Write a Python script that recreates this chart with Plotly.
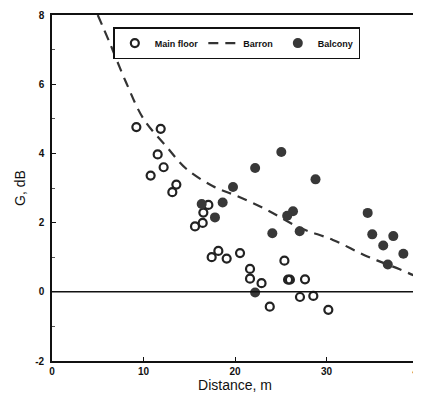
import plotly.graph_objects as go

# Main floor (open circles)
main_x = [9.22, 11.88, 11.55, 10.78, 12.2, 13.59, 13.15, 17.09, 16.54, 16.47, 15.63,
          17.45, 18.18, 19.09, 20.55, 21.64, 21.64, 22.9, 23.8, 25.4, 25.8, 26.0,
          27.65, 27.1, 28.56, 30.2]
main_y = [4.76, 4.71, 3.97, 3.36, 3.60, 3.10, 2.88, 2.51, 2.29, 1.99, 1.89,
          1.00, 1.18, 0.96, 1.12, 0.66, 0.38, 0.25, -0.43, 0.90, 0.35, 0.35,
          0.36, -0.15, -0.12, -0.52]

# Balcony (filled circles)
balc_x = [16.36, 18.65, 17.81, 19.78, 22.2, 25.06, 28.8, 26.34, 25.7, 24.08, 27.07,
          34.5, 35.0, 36.2, 37.3, 36.7, 38.4, 22.2]
balc_y = [2.54, 2.58, 2.15, 3.03, 3.58, 4.04, 3.25, 2.33, 2.2, 1.69, 1.75,
          2.28, 1.66, 1.34, 1.61, 0.79, 1.10, -0.02]

# Barron curve (dashed)
barron_x = [5.0, 6.3, 8.1, 10.0, 12.5, 14.7, 17.6, 20.1, 23.4, 27.1, 30.7, 34.4, 38.0, 40.0]
barron_y = [8.0, 7.2, 6.05, 5.0, 4.2, 3.55, 3.05, 2.78, 2.38, 1.85, 1.5, 1.03, 0.65, 0.42]

x_ticks = [0, 10, 20, 30, 40]
y_ticks = [-2, 0, 2, 4, 6, 8]

fig = go.Figure()
fig.add_trace(go.Scatter(
    x=main_x, y=main_y, mode="markers", name="Main floor",
    marker=dict(symbol="circle-open", size=8, color="#222", line=dict(width=2.2, color="#222")),
))
fig.add_trace(go.Scatter(
    x=barron_x, y=barron_y, mode="lines", name="Barron", line_shape="spline",
    line=dict(color="#333", width=2.2, dash="10px,7px"),
))
fig.add_trace(go.Scatter(
    x=balc_x, y=balc_y, mode="markers", name="Balcony",
    marker=dict(symbol="circle", size=10, color="#383838"),
))

fig.add_shape(type="line", xref="paper", x0=0, x1=1, yref="y", y0=0, y1=0,
              line=dict(color="#111", width=1.6))

tickfont = dict(family="Arial", size=10, color="#111", weight="bold")
fig.update_layout(
    width=413, height=394,
    margin=dict(l=44, r=3, t=7, b=41, autoexpand=False),
    paper_bgcolor="white", plot_bgcolor="white",
    showlegend=True,
    legend=dict(orientation="h", x=0.505, xanchor="center", y=0.965, yanchor="top",
                bordercolor="#111", borderwidth=1.5, bgcolor="white",
                font=dict(family="Arial", size=9, color="#111", weight="bold"),
                itemwidth=30, tracegroupgap=0),
    xaxis=dict(range=[0, 40], tickvals=x_ticks, ticktext=[str(v) for v in x_ticks],
               showgrid=False, zeroline=False, ticks="inside", ticklen=4,
               tickcolor="#111", showline=True, linecolor="#111", linewidth=1.6, mirror=True,
               tickfont=tickfont, automargin=False, ticklabeloverflow="allow",
               title=dict(text="Distance, m", font=dict(family="Arial", size=14, color="#111"),
                          standoff=4)),
    yaxis=dict(range=[-2, 8], tickvals=y_ticks, ticktext=[str(v) for v in y_ticks],
               showgrid=False, zeroline=False, ticks="inside", ticklen=4,
               tickcolor="#111", showline=True, linecolor="#111", linewidth=1.6, mirror=True,
               tickfont=tickfont, automargin=False, ticklabeloverflow="allow",
               ticklabelstandoff=4,
               minor=dict(tickvals=[-1, 1, 3, 5, 7], ticks="inside", ticklen=3, tickcolor="#555"),
               title=dict(text="G, dB", font=dict(family="Arial", size=14, color="#111"),
                          standoff=6)),
)

fig.write_html("out.html")
